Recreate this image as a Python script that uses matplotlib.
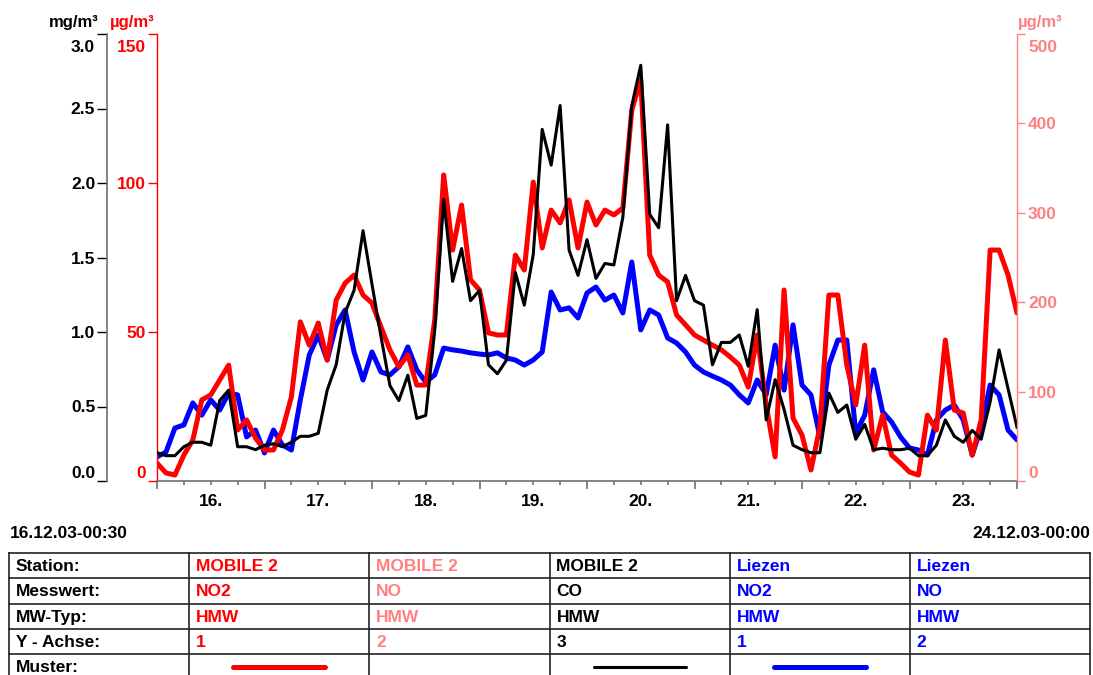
import matplotlib
matplotlib.use("Agg")
import matplotlib.pyplot as plt
import matplotlib.dates as mdates
from matplotlib.ticker import FuncFormatter, NullFormatter
from matplotlib.transforms import ScaledTranslation
import pandas as pd

plt.rcParams['font.family'] = ['Liberation Sans', 'DejaVu Sans']
plt.rcParams['font.weight'] = 'bold'

RED = '#ff0000'
PINK = '#ff8080'
BLUE = '#0000ff'
GRAY = '#707070'

# half-hour means, sampled every 2 h, 16.12.2003 - 24.12.2003
times = pd.date_range('2003-12-16 00:00', '2003-12-24 00:00', freq='2h')

# MOBILE 2 - NO2 [µg/m³], axis 1
no2_mobile = [6.0, 2.7, 2.0, 8.7, 13.8, 27.2, 28.9, 33.9, 38.9, 17.1,
              20.5, 14.4, 10.4, 10.4, 17.1, 28.2, 53.4, 45.6, 53.0, 40.6,
              60.7, 66.4, 69.1, 62.4, 59.7, 51.7, 44.0, 38.3, 42.3, 32.2,
              32.2, 54.0, 102.7, 77.5, 92.6, 67.5, 64.1, 49.7, 49.0, 49.0,
              75.8, 70.8, 100.3, 78.2, 90.9, 86.6, 94.3, 78.2, 93.6, 85.9,
              90.9, 89.3, 91.6, 124.5, 134.6, 75.8, 69.1, 66.8, 55.7, 52.4,
              49.0, 47.3, 45.6, 44.0, 41.6, 38.9, 31.5, 49.0, 25.5, 8.1,
              64.1, 21.1, 15.4, 3.7, 18.1, 62.4, 62.4, 38.9, 25.5, 45.6,
              10.4, 22.1, 8.7, 6.0, 3.0, 2.0, 22.1, 17.1, 47.3, 23.8,
              22.8, 8.7, 20.5, 77.5, 77.5, 69.1, 56.4]

# MOBILE 2 - CO [mg/m³], axis 3
co_mobile = [0.19, 0.17, 0.17, 0.23, 0.26, 0.26, 0.24, 0.54, 0.61, 0.23,
             0.23, 0.21, 0.24, 0.25, 0.23, 0.26, 0.30, 0.30, 0.32, 0.61,
             0.78, 1.13, 1.28, 1.68, 1.32, 0.97, 0.64, 0.54, 0.71, 0.42,
             0.44, 1.01, 1.89, 1.34, 1.56, 1.21, 1.28, 0.78, 0.72, 0.81,
             1.40, 1.18, 1.52, 2.36, 2.12, 2.52, 1.55, 1.38, 1.62, 1.36,
             1.46, 1.45, 1.77, 2.52, 2.79, 1.79, 1.70, 2.39, 1.21, 1.38,
             1.21, 1.18, 0.78, 0.93, 0.93, 0.98, 0.77, 1.15, 0.41, 0.68,
             0.48, 0.24, 0.21, 0.19, 0.19, 0.59, 0.46, 0.51, 0.28, 0.38,
             0.21, 0.22, 0.21, 0.21, 0.22, 0.17, 0.17, 0.24, 0.41, 0.30,
             0.26, 0.34, 0.28, 0.53, 0.88, 0.62, 0.36]

# Liezen - NO2 [µg/m³], axis 1
no2_liezen = [8.1, 9.7, 17.8, 18.8, 26.2, 22.1, 27.2, 23.8, 29.5, 28.9,
              14.8, 17.1, 9.4, 17.1, 12.1, 10.4, 27.2, 42.3, 49.0, 40.6,
              52.4, 57.4, 43.3, 33.9, 43.3, 36.6, 35.6, 38.3, 45.0, 37.3,
              33.2, 35.6, 44.6, 44.0, 43.6, 43.0, 42.6, 42.3, 43.0, 41.3,
              40.6, 38.9, 40.6, 43.3, 63.4, 57.4, 58.1, 54.7, 63.1, 65.1,
              60.7, 62.4, 56.4, 73.5, 50.7, 57.4, 55.7, 48.0, 46.3, 43.3,
              38.9, 36.6, 35.2, 33.9, 32.2, 28.9, 26.2, 33.9, 28.9, 45.6,
              30.5, 52.4, 32.2, 28.9, 14.8, 38.9, 47.3, 47.3, 16.1, 22.1,
              37.3, 23.2, 19.8, 14.8, 11.1, 10.4, 8.7, 20.5, 23.8, 25.5,
              20.5, 8.7, 18.1, 32.2, 28.9, 17.1, 13.8]

period_start = '16.12.03-00:30'
period_end = '24.12.03-00:00'

# legend table
row_titles = ['Station:', 'Messwert:', 'MW-Typ:', 'Y - Achse:', 'Muster:']
stations = ['MOBILE 2', 'MOBILE 2', 'MOBILE 2', 'Liezen', 'Liezen']
components = ['NO2', 'NO', 'CO', 'NO2', 'NO']
mw_types = ['HMW', 'HMW', 'HMW', 'HMW', 'HMW']
y_axes = ['1', '2', '3', '1', '2']
col_colors = [RED, PINK, 'black', BLUE, BLUE]
pattern_width = [3.6, None, 2.2, 3.6, None]

W, H = 1093, 675
FS = 12.5
fig = plt.figure(figsize=(W / 100, H / 100), dpi=100)

# axis 1: NO2, 0-150 µg/m³
ax = fig.add_axes([157 / W, 1 - 481 / H, 860 / W, 447 / H])
ax.plot(times, no2_liezen, color=BLUE, lw=3.6, solid_joinstyle='round', solid_capstyle='round')
ax.plot(times, no2_mobile, color=RED, lw=3.6, solid_joinstyle='round', solid_capstyle='round')
ax.set_xlim(times[0], times[-1])
ax.set_ylim(0, 150)
ax.set_yticks([0, 50, 100, 150])
ax.tick_params(axis='y', colors=RED, length=6.5, width=1, pad=1.5, labelsize=FS)
for s in ['top', 'right']:
    ax.spines[s].set_visible(False)
ax.spines['left'].set_color(RED)
ax.spines['left'].set_linewidth(1)
ax.spines['bottom'].set_color(GRAY)
ax.spines['bottom'].set_linewidth(1.2)

ax.xaxis.set_major_locator(mdates.DayLocator())
ax.xaxis.set_minor_locator(mdates.HourLocator(byhour=[6, 12, 18]))
ax.xaxis.set_major_formatter(NullFormatter())


def day_label(x, pos):
    d = mdates.num2date(x)
    if round((x % 1) * 24) == 12:
        return d.strftime('%d.')
    return ''


ax.xaxis.set_minor_formatter(FuncFormatter(day_label))
ax.tick_params(axis='x', which='major', length=6, width=1.2, color=GRAY)
ax.tick_params(axis='x', which='minor', length=3.2, width=1.2, color=GRAY,
               labelsize=FS, pad=6)

# axis 3: CO, 0-3 mg/m³
ax_co = ax.twinx()
ax_co.plot(times, co_mobile, color='black', lw=2.2, solid_joinstyle='round')
ax_co.set_ylim(0, 3)
ax_co.set_yticks([0, 0.5, 1.0, 1.5, 2.0, 2.5, 3.0])
ax_co.yaxis.set_major_formatter(FuncFormatter(lambda v, p: f'{v:.1f}'))
ax_co.yaxis.set_ticks_position('left')
for s in ['top', 'right', 'bottom']:
    ax_co.spines[s].set_visible(False)
ax_co.spines['left'].set_visible(True)
ax_co.spines['left'].set_position(('outward', 36))
ax_co.spines['left'].set_color(GRAY)
ax_co.spines['left'].set_linewidth(1.2)
ax_co.tick_params(axis='y', colors='black', length=7, width=1, pad=1.5, labelsize=FS)

# axis 2: NO, 0-500 µg/m³
ax_no = ax.twinx()
ax_no.set_ylim(0, 500)
ax_no.set_yticks([0, 100, 200, 300, 400, 500])
for s in ['top', 'left', 'bottom']:
    ax_no.spines[s].set_visible(False)
ax_no.spines['right'].set_color(PINK)
ax_no.spines['right'].set_linewidth(1)
ax_no.tick_params(axis='y', colors=PINK, length=6, width=1, pad=2, labelsize=FS)

# keep the end labels inside the axis range
shift_down = ScaledTranslation(0, -4 / 72, fig.dpi_scale_trans)
for a in (ax, ax_co, ax_no):
    lbls = a.get_yticklabels()
    lbls[0].set_va('bottom')
    lbls[-1].set_va('top')
    lbls[-1].set_transform(lbls[-1].get_transform() + shift_down)

fig.text(99 / W, 1 - 22 / H, 'mg/m³', ha='right', va='center', fontsize=12)
fig.text(110 / W, 1 - 22 / H, 'µg/m³', ha='left', va='center', fontsize=12, color=RED)
fig.text(1018 / W, 1 - 22 / H, 'µg/m³', ha='left', va='center', fontsize=12, color=PINK)

fig.text(10 / W, 1 - 533 / H, period_start, ha='left', va='center', fontsize=FS)
fig.text(1090 / W, 1 - 533 / H, period_end, ha='right', va='center', fontsize=FS)

# table below the chart, drawn in pixel coordinates
tab = fig.add_axes([0, 0, 1, 1])
tab.set_xlim(0, W)
tab.set_ylim(H, 0)
tab.axis('off')
col_w = (1090 - 9) / 6
cols = [9 + i * col_w for i in range(7)]
row_h = 25.3
rows = [553 + i * row_h for i in range(6)]
for y in rows[:-1]:
    tab.plot([cols[0], cols[-1]], [y, y], color='#222222', lw=1.2)
for x in cols:
    tab.plot([x, x], [rows[0], rows[-1]], color='#222222', lw=1.2)

for r, title in enumerate(row_titles):
    tab.text(cols[0] + 7, rows[r] + row_h / 2 + 1, title, va='center', ha='left', fontsize=FS)

for c in range(5):
    x0 = cols[c + 1] + 7
    color = col_colors[c]
    for r, val in enumerate([stations[c], components[c], mw_types[c], y_axes[c]]):
        tab.text(x0, rows[r] + row_h / 2 + 1, val, va='center', ha='left', fontsize=FS, color=color)
    if pattern_width[c]:
        xm = (cols[c + 1] + cols[c + 2]) / 2
        tab.plot([xm - 46, xm + 46], [rows[4] + 13, rows[4] + 13], color=color,
                 lw=pattern_width[c], solid_capstyle='round')

fig.savefig('out.png', dpi=100)
